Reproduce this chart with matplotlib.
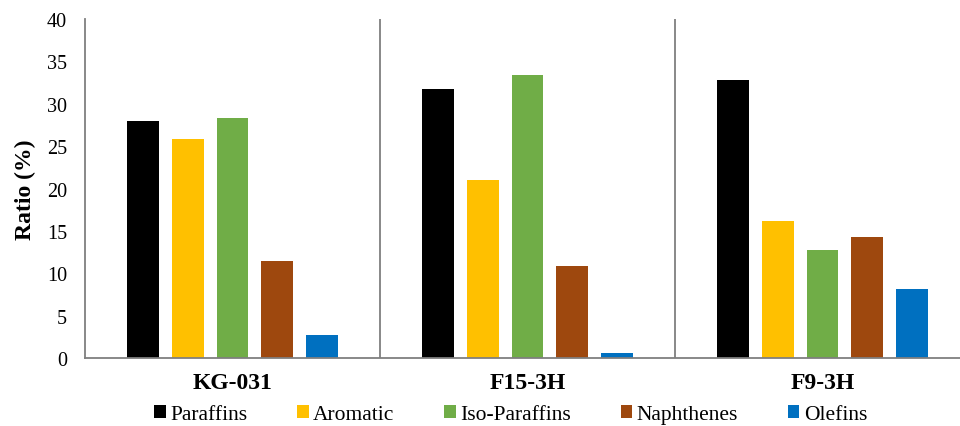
import numpy as np
import matplotlib
matplotlib.use('Agg')
import matplotlib.pyplot as plt

plt.rcParams['font.family'] = ['Liberation Serif', 'DejaVu Serif']

samples = ['KG-031', 'F15-3H', 'F9-3H']
components = ['Paraffins', 'Aromatic', 'Iso-Paraffins', 'Naphthenes', 'Olefins']
colors = ['#000000', '#FFC000', '#70AD47', '#9E480E', '#0070C0']
values = {
    'Paraffins':     [28.0, 31.8, 32.8],
    'Aromatic':      [25.8, 21.0, 16.2],
    'Iso-Paraffins': [28.3, 33.4, 12.8],
    'Naphthenes':    [11.5, 10.9, 14.3],
    'Olefins':       [2.7, 0.6, 8.2],
}

fig = plt.figure(figsize=(9.6, 4.27), dpi=100)
ax = fig.add_axes([85 / 960, 67.7 / 427, 875 / 960, 339.3 / 427])

x = np.arange(len(samples))
step = 0.152
width = 0.108
for i, comp in enumerate(components):
    ax.bar(x + (i - 2) * step, values[comp], width, color=colors[i], label=comp)

# separators between groups
for b in [0.5, 1.5]:
    ax.axvline(b, color='#7f7f7f', lw=1.3)

ax.set_xlim(-0.5, -0.5 + 875 / 295)
ax.set_ylim(0, 40)
ax.set_yticks(range(0, 41, 5))
ax.set_xticks(x)
ax.set_xticklabels(samples, fontweight='bold')
ax.tick_params(axis='both', length=0)
ax.tick_params(axis='x', pad=10, labelsize=17)
ax.tick_params(axis='y', pad=13, labelsize=14.5)
ax.set_ylabel('Ratio (%)', fontsize=17, fontweight='bold', labelpad=8)

for s in ['top', 'right']:
    ax.spines[s].set_visible(False)
for s in ['left', 'bottom']:
    ax.spines[s].set_color('#7f7f7f')
    ax.spines[s].set_linewidth(1.3)

fig.legend(loc='center', bbox_to_anchor=(0.532, 0.027), ncol=5, frameon=False,
           fontsize=15.5, handlelength=0.55, handleheight=0.55, handletextpad=0.2,
           columnspacing=2.3, borderpad=0)

fig.savefig('out.png', dpi=100)
